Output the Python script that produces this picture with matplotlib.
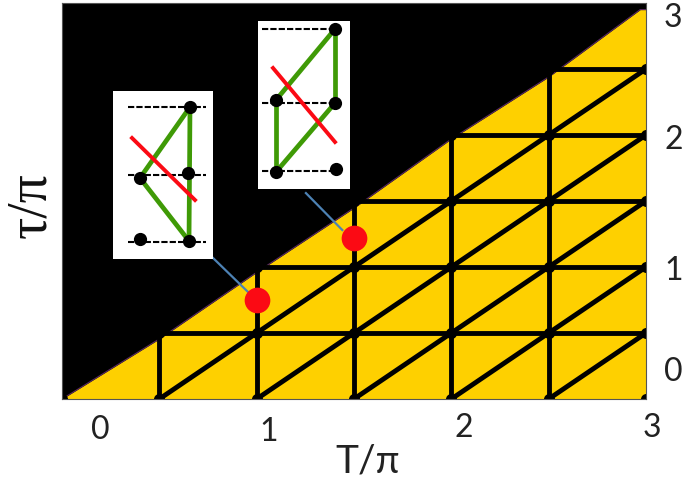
import matplotlib
import matplotlib.pyplot as plt

matplotlib.use('Agg')

plt.rcParams['font.family'] = ['Lato', 'DejaVu Sans']

YELLOW = '#fed000'
GREEN = '#3f9a06'
RED = '#fb0a14'
BLUE = '#4d82b4'

# Edge of the yellow region, in units of pi.
edge_T = [0, 0.5, 1, 1.5, 2, 2.5, 2.97, 3]
edge_tau = [0, 0.455, 0.96, 1.447, 1.97, 2.44, 2.95, 2.95]

# Black grid.
vertical_T = [0, 0.5, 1, 1.5, 2, 2.5, 3]
horizontal_tau = [0, 0.5, 1, 1.5, 2, 2.5]
diagonal_T0 = [0.5, 1, 1.5, 2, 2.5]

# Red markers and their leader lines.
marker_T = [1.0, 1.5]
marker_tau = [0.75, 1.22]
leader_T = [[0.776, 0.97], [1.253, 1.44]]
leader_tau = [[1.068, 0.79], [1.56, 1.28]]

# Tick labels are not centred on the grid in the picture.
x_labels = ['0', '1', '2', '3']
x_label_T = [0.195, 1.06, 2.065, 3.03]
x_label_tau = [-0.235, -0.25, -0.22, -0.22]
y_labels = ['0', '1', '2', '3']
y_label_tau = [0.205, 0.97, 1.96, 2.89]

# Insets: position in pixels (left, top, width, height), content in inset pixels.
inset_boxes = [(113, 91, 100, 168), (258, 21, 92, 168)]
inset_levels = [[152, 84, 17], [160, 86, 18]]
inset_dash_x = [[15, 93], [4, 77]]
inset_dot_x = [[77, 27, 75, 27, 76], [18, 77, 77, 18, 78]]
inset_dot_y = [[152, 81, 86, 20, 18], [89, 160, 86, 17, 20]]
inset_green = [[(0, 1), (0, 4), (1, 4)], [(1, 0), (1, 2), (2, 3), (0, 3)]]
inset_red_x = [[19, 82], [15, 77]]
inset_red_y = [[121, 59], [121, 47]]

fig = plt.figure(figsize=(6.85, 4.84), dpi=100)
ax = fig.add_axes([62 / 685, 85 / 484, 584 / 685, 396 / 484])
ax.set_xlim(0, 3)
ax.set_ylim(0, 3)
ax.set_facecolor('black')
ax.set_xticks([])
ax.set_yticks([])
for spine in ax.spines.values():
    spine.set_color('#555555')
    spine.set_linewidth(0.8)

ax.fill_between(edge_T, 0, edge_tau, color=YELLOW, linewidth=0)
ax.plot(edge_T, edge_tau, color='#5a2a60', linewidth=0.8)

# Black on black is invisible, so the grid can run across the whole frame.
for T in vertical_T[1:-1]:
    ax.axvline(T, color='black', linewidth=3.5)
for tau in horizontal_tau[1:]:
    ax.axhline(tau, color='black', linewidth=3.5)
for T0 in diagonal_T0:
    ax.plot([T0, 3], [0, 3 - T0], color='black', linewidth=3.5)

# Dots on the grid nodes round off the corners of the yellow cells.
for T in vertical_T:
    for tau in horizontal_tau:
        ax.plot(T, tau, 'o', color='black', markersize=8, markeredgewidth=0)

for i in range(len(marker_T)):
    ax.plot(leader_T[i], leader_tau[i], color=BLUE, linewidth=1.6, clip_on=False)
ax.plot(marker_T, marker_tau, 'o', color=RED, markersize=18.5, markeredgewidth=0)

for i in range(len(x_labels)):
    ax.text(x_label_T[i], x_label_tau[i], x_labels[i], ha='center', va='center',
            fontsize=23, color='#222222', clip_on=False)
for i in range(len(y_labels)):
    ax.text(3.14, y_label_tau[i], y_labels[i], ha='center', va='center',
            fontsize=23, color='#222222', clip_on=False)

ax.text(1.57, -0.47, 'T/π', ha='center', va='center', fontsize=28,
        color='#222222', clip_on=False)
fig.text(31 / 685, 1 - 205 / 484, 'τ/π', rotation=90, ha='center', va='center',
         fontsize=40, color='#111111', family=['Liberation Serif', 'DejaVu Serif'])

for i, (left, top, width, height) in enumerate(inset_boxes):
    inset = fig.add_axes([left / 685, 1 - (top + height) / 484, width / 685, height / 484])
    inset.set_xlim(0, width)
    inset.set_ylim(0, height)
    inset.set_xticks([])
    inset.set_yticks([])
    inset.set_facecolor('white')
    for spine in inset.spines.values():
        spine.set_visible(False)

    for level in inset_levels[i]:
        inset.plot(inset_dash_x[i], [level, level], color='black', linewidth=1.5,
                   dashes=(3, 1))
    for a, b in inset_green[i]:
        inset.plot([inset_dot_x[i][a], inset_dot_x[i][b]],
                   [inset_dot_y[i][a], inset_dot_y[i][b]],
                   color=GREEN, linewidth=3.4)
    inset.plot(inset_dot_x[i], inset_dot_y[i], 'o', color='black', markersize=9.5,
               markeredgewidth=0)
    inset.plot(inset_red_x[i], inset_red_y[i], color=RED, linewidth=2.8)

fig.savefig('out.png', dpi=100)
